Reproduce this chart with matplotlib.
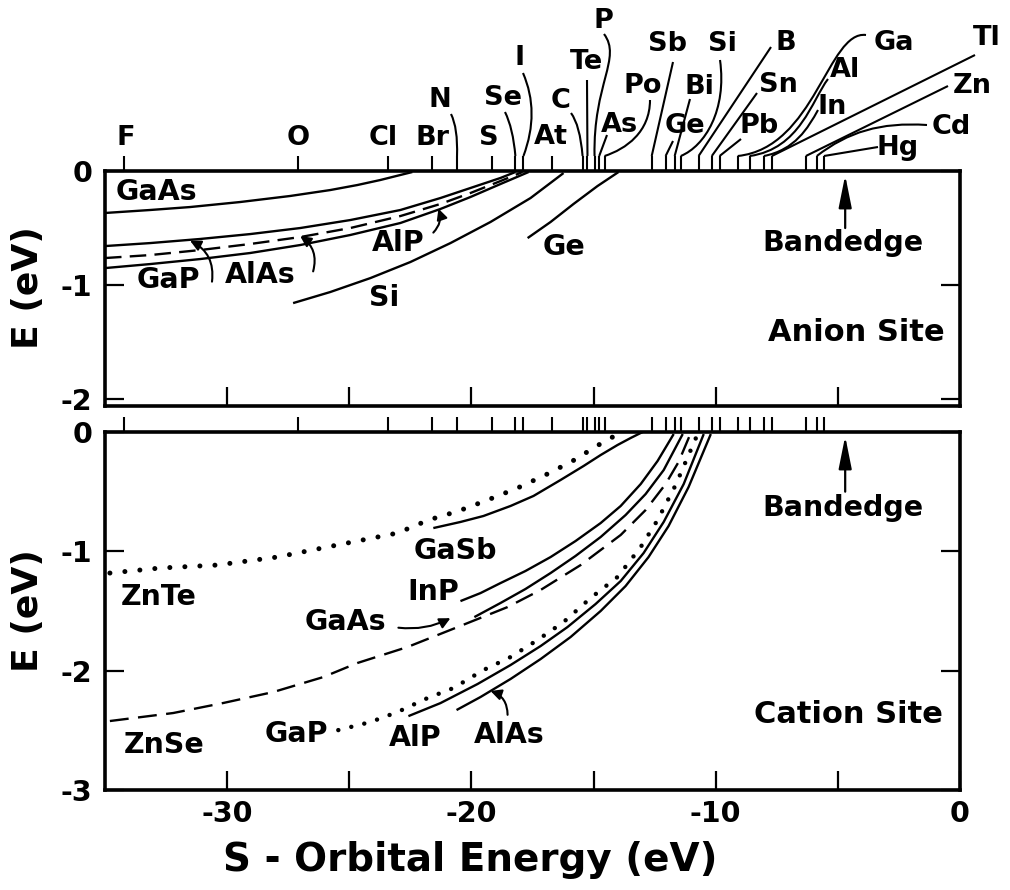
import matplotlib
matplotlib.use("Agg")
import matplotlib.pyplot as plt
import matplotlib.transforms as mtransforms
from matplotlib.path import Path
from matplotlib.patches import PathPatch

plt.rcParams["font.family"] = ["DejaVu Sans"]
plt.rcParams["font.weight"] = "bold"
plt.rcParams["axes.unicode_minus"] = False

# ── Impurity s-orbital energies (eV), marked along the top of both panels ──
ELEMENTS = ["F", "O", "Cl", "Br", "N", "S", "Se", "I", "At", "C", "Te", "P",
            "As", "Po", "Sb", "Ge", "Bi", "Si", "B", "Sn", "Pb", "Ga", "Al",
            "In", "Tl", "Zn", "Cd", "Hg"]
S_ENERGY = [-34.22, -27.09, -23.40, -21.62, -20.59, -19.14, -18.20, -17.87,
            -16.71, -15.45, -15.25, -14.96, -14.77, -14.55, -12.62, -12.05,
            -11.68, -11.43, -10.70, -10.16, -9.84, -9.10, -8.61, -8.03,
            -7.70, -6.31, -5.86, -5.57]
BANDEDGE = -4.7

# ── Anion site: deep level E (eV) vs impurity s-orbital energy ──
an_gaas_x = [-35.0, -33.16, -31.52, -29.47, -27.42, -25.78, -24.67, -23.73, -22.91, -22.42]
an_gaas_e = [-0.368, -0.342, -0.316, -0.272, -0.219, -0.167, -0.123, -0.079, -0.035, -0.009]
an_gap_x = [-35.0, -33.16, -31.11, -29.06, -27.01, -24.96, -22.91, -21.27, -20.04, -18.81, -18.20]
an_gap_e = [-0.658, -0.632, -0.596, -0.553, -0.500, -0.430, -0.342, -0.237, -0.149, -0.061, -0.009]
an_alas_x = [-35.0, -33.16, -31.11, -29.06, -27.01, -24.96, -22.91, -21.27, -20.04, -18.81, -17.91]
an_alas_e = [-0.763, -0.737, -0.693, -0.640, -0.579, -0.500, -0.395, -0.289, -0.193, -0.088, -0.009]
an_alp_x = [-35.0, -33.16, -31.11, -29.06, -27.01, -24.96, -22.91, -21.27, -20.04, -18.81, -17.66]
an_alp_e = [-0.851, -0.816, -0.772, -0.719, -0.649, -0.561, -0.456, -0.333, -0.228, -0.114, -0.009]
an_si_x = [-27.30, -25.78, -24.14, -22.50, -20.86, -19.22, -17.58, -16.23]
an_si_e = [-1.158, -1.061, -0.939, -0.798, -0.632, -0.447, -0.237, -0.018]
an_ge_x = [-17.70, -16.76, -15.82, -14.84, -13.98]
an_ge_e = [-0.588, -0.447, -0.289, -0.132, -0.009]

# ── Cation site ──
ca_znte_x = [-34.80, -32.75, -30.41, -27.95, -25.49, -23.03, -21.76, -20.53, -19.34,
             -18.11, -16.97, -15.86, -14.80, -14.22]
ca_znte_e = [-1.182, -1.140, -1.115, -1.048, -0.947, -0.847, -0.738, -0.662, -0.570,
             -0.469, -0.360, -0.243, -0.109, -0.042]
ca_gasb_x = [-21.56, -20.45, -19.51, -18.40, -17.46, -16.35, -15.41, -14.71, -14.02, -13.48, -12.99]
ca_gasb_e = [-0.805, -0.754, -0.704, -0.620, -0.536, -0.402, -0.285, -0.193, -0.109, -0.050, 0.0]
ca_inp_x = [-20.45, -19.63, -18.81, -17.79, -16.76, -15.74, -14.71, -13.89, -13.07, -12.38, -11.72]
ca_inp_e = [-1.417, -1.350, -1.266, -1.165, -1.048, -0.914, -0.763, -0.620, -0.436, -0.243, -0.017]
ca_gaas_x = [-19.88, -18.81, -17.79, -16.76, -15.74, -14.71, -13.69, -12.87, -12.13, -11.35]
ca_gaas_e = [-1.551, -1.433, -1.316, -1.182, -1.039, -0.880, -0.696, -0.520, -0.319, -0.017]
ca_znse_x = [-34.80, -32.21, -30.16, -28.11, -26.07, -24.67, -22.62, -20.57, -18.52, -17.17,
             -15.53, -13.89, -12.87, -12.05, -11.52, -11.02]
ca_znse_e = [-2.422, -2.355, -2.271, -2.179, -2.054, -1.936, -1.802, -1.635, -1.467, -1.324,
             -1.115, -0.863, -0.654, -0.436, -0.251, -0.008]
ca_gap_x = [-25.45, -24.14, -23.03, -21.80, -20.74, -19.51, -18.40, -17.30, -16.23, -15.12,
            -14.02, -13.07, -12.38, -11.64, -10.74]
ca_gap_e = [-2.498, -2.431, -2.347, -2.230, -2.146, -1.995, -1.886, -1.744, -1.593, -1.391,
            -1.215, -0.964, -0.738, -0.444, -0.017]
ca_alp_x = [-22.58, -21.27, -19.75, -18.40, -17.17, -16.07, -14.92, -13.89, -12.95, -12.13, -11.31, -10.49]
ca_alp_e = [-2.381, -2.272, -2.112, -1.953, -1.794, -1.635, -1.442, -1.249, -1.014, -0.754, -0.436, -0.017]
ca_alas_x = [-20.61, -19.63, -18.40, -17.17, -15.94, -14.71, -13.69, -12.75, -11.93, -11.11, -10.20]
ca_alas_e = [-2.330, -2.221, -2.070, -1.903, -1.718, -1.500, -1.291, -1.048, -0.788, -0.461, -0.017]

# ── Layout (reference-pixel coordinates of a 1010 x 890 canvas) ──
W, H = 1010, 890
fig = plt.figure(figsize=(W / 100, H / 100), dpi=100)
ref = mtransforms.Affine2D().scale(1 / W, -1 / H).translate(0, 1) + fig.transFigure


def box(l, t, r, b):
    return [l / W, 1 - b / H, (r - l) / W, (b - t) / H]


ax1 = fig.add_axes(box(105, 171, 960, 406))
ax2 = fig.add_axes(box(105, 432, 960, 790))
ax1.set_xlim(-35, 0)
ax1.set_ylim(-2.06, 0)
ax2.set_xlim(-35, 0)
ax2.set_ylim(-3, 0)

LW = 1.7
FS = 20.5

for ax in (ax1, ax2):
    for sp in ax.spines.values():
        sp.set_linewidth(2.6)
    ax.tick_params(axis="both", which="both", direction="in", length=14, width=1.6,
                   right=True, top=False, labelsize=FS, pad=9)

ax1.set_xticks([-30, -25, -20, -15, -10, -5])
ax1.tick_params(axis="x", labelbottom=False)
ax1.set_yticks([0, -1, -2])
ax1.set_yticklabels(["0", "-1", "-2"])

ax2.set_xticks([-30, -20, -10, 0])
ax2.set_xticklabels(["-30", "-20", "-10", "0"])
ax2.set_xticks([-25, -15, -5], minor=True)
ax2.set_yticks([0, -1, -2, -3])
ax2.set_yticklabels(["0", "-1", "-2", "-3"])
ax2.tick_params(axis="x", pad=7)

# element ticks above the top spine of each panel
for ax, hpx in ((ax1, 235), (ax2, 358)):
    ax.vlines(S_ENERGY, 1, 1 + 15 / hpx, transform=ax.get_xaxis_transform(),
              clip_on=False, color="k", lw=1.5)

# ── Curves ──
solid = dict(color="k", lw=LW, solid_capstyle="butt")
ax1.plot(an_gaas_x, an_gaas_e, **solid)
ax1.plot(an_gap_x, an_gap_e, **solid)
ax1.plot(an_alas_x, an_alas_e, color="k", lw=LW, ls=(0, (7, 3.5)))
ax1.plot(an_alp_x, an_alp_e, **solid)
ax1.plot(an_si_x, an_si_e, **solid)
ax1.plot(an_ge_x, an_ge_e, **solid)

ax2.plot(ca_znte_x, ca_znte_e, color="k", lw=3.6, ls=(0, (0.01, 3.0)), dash_capstyle="round")
ax2.plot(ca_gasb_x, ca_gasb_e, **solid)
ax2.plot(ca_inp_x, ca_inp_e, **solid)
ax2.plot(ca_gaas_x, ca_gaas_e, **solid)
ax2.plot(ca_znse_x, ca_znse_e, color="k", lw=LW, ls=(0, (8, 4)))
ax2.plot(ca_gap_x, ca_gap_e, color="k", lw=3.2, ls=(0, (0.01, 3.0)), dash_capstyle="round")
ax2.plot(ca_alp_x, ca_alp_e, **solid)
ax2.plot(ca_alas_x, ca_alas_e, **solid)

# ── Host labels and pointer arrows ──
def label(ax, x, y, s, size=FS):
    ax.text(x, y, s, ha="center", va="center", fontsize=size, fontweight="bold")


def pointer(ax, tail, head, rad):
    ax.annotate("", xy=head, xytext=tail,
                arrowprops=dict(arrowstyle="-|>", color="k", lw=1.5, mutation_scale=16,
                                shrinkA=0, shrinkB=0,
                                connectionstyle=f"arc3,rad={rad}"))


label(ax1, -32.89, -0.18, "GaAs")
label(ax1, -32.40, -0.956, "GaP")
label(ax1, -28.63, -0.912, "AlAs")
label(ax1, -23.01, -0.627, "AlP")
label(ax1, -23.57, -1.114, "Si")
label(ax1, -16.21, -0.662, "Ge")
label(ax1, -4.79, -0.627, "Bandedge")
label(ax1, -4.26, -1.42, "Anion Site", 22)
pointer(ax1, (-30.62, -0.97), (-31.52, -0.61), 0.35)
pointer(ax1, (-26.48, -0.88), (-27.01, -0.57), 0.35)
pointer(ax1, (-21.56, -0.54), (-21.35, -0.33), 0.3)

label(ax2, -20.66, -1.0, "GaSb")
label(ax2, -21.58, -1.341, "InP")
label(ax2, -25.16, -1.593, "GaAs")
label(ax2, -32.81, -1.383, "ZnTe")
label(ax2, -32.58, -2.624, "ZnSe")
label(ax2, -27.15, -2.532, "GaP")
label(ax2, -22.31, -2.565, "AlP")
label(ax2, -18.44, -2.540, "AlAs")
label(ax2, -4.79, -0.637, "Bandedge")
label(ax2, -4.55, -2.37, "Cation Site", 22)
pointer(ax2, (-22.99, -1.64), (-20.86, -1.56), 0.15)
pointer(ax2, (-18.52, -2.37), (-19.22, -2.17), 0.35)

for ax in (ax1, ax2):
    ax.annotate("", xy=(BANDEDGE, 0), xytext=(BANDEDGE, -0.5),
                arrowprops=dict(arrowstyle="-|>,head_length=1.1,head_width=0.22",
                                color="k", lw=1.6, mutation_scale=18,
                                shrinkA=0, shrinkB=3))

# ── Element labels with leader lines (ref pixels) ──
EL_POS = {
    "F": (126, 138), "O": (298, 138), "Cl": (383, 138), "Br": (433, 138),
    "N": (440, 100), "S": (489, 138), "Se": (503, 98), "I": (520, 58),
    "At": (551, 137), "C": (561, 101), "Te": (586, 62), "P": (603, 21),
    "As": (619, 125), "Po": (643, 86), "Sb": (667, 44), "Ge": (685, 126),
    "Bi": (699, 87), "Si": (722, 44), "B": (786, 43), "Sn": (778, 85),
    "Pb": (759, 126), "Ga": (894, 43), "Al": (845, 70), "In": (832, 107),
    "Tl": (987, 38), "Zn": (972, 86), "Cd": (951, 127), "Hg": (898, 148),
}
LEADERS = {
    "N": [(451, 114), (458, 128)],
    "Se": [(505, 112), (513, 128)],
    "I": [(523, 73), (540, 112)],
    "C": [(571, 113), (580, 125)],
    "Te": [(587, 80)],
    "P": [(604, 34), (622, 58), (593, 84)],
    "As": [(607, 135)],
    "Po": [(650, 100), (650, 132), (626, 149)],
    "Sb": [(673, 62)],
    "Ge": [(673, 141)],
    "Bi": [(690, 99)],
    "Si": [(720, 60), (727, 110), (705, 146)],
    "B": [(771, 47)],
    "Sn": [(757, 93)],
    "Pb": [(741, 139)],
    "Ga": [(866, 35), (828, 30), (815, 148)],
    "Al": [(828, 79), (812, 100), (800, 149)],
    "In": [(818, 110), (808, 128), (795, 150)],
    "Tl": [(975, 55)],
    "Zn": [(948, 86)],
    "Cd": [(927, 125), (880, 122), (848, 132)],
    "Hg": [(878, 147)],
}

inv = ref.inverted()
for name, e in zip(ELEMENTS, S_ENERGY):
    px, py = EL_POS[name]
    fig.text(px, py, name, transform=ref, ha="center", va="center",
             fontsize=19.5, fontweight="bold")
    if name not in LEADERS:
        continue
    tx, ty = inv.transform(ax1.transData.transform((e, 0)))
    end = (tx, ty - 15)
    pts = LEADERS[name] + [end]
    codes = {2: [Path.MOVETO, Path.LINETO],
             3: [Path.MOVETO, Path.CURVE3, Path.CURVE3],
             4: [Path.MOVETO, Path.CURVE4, Path.CURVE4, Path.CURVE4]}[len(pts)]
    fig.add_artist(PathPatch(Path(pts, codes), transform=ref, fill=False,
                             lw=1.5, edgecolor="k"))

# ── Axis titles ──
fig.text(28, 288, "E (eV)", transform=ref, rotation=90, ha="center", va="center",
         fontsize=26, fontweight="bold")
fig.text(28, 611, "E (eV)", transform=ref, rotation=90, ha="center", va="center",
         fontsize=26, fontweight="bold")
fig.text(470, 860, "S - Orbital Energy (eV)", transform=ref, ha="center", va="center",
         fontsize=28, fontweight="bold")

fig.savefig("out.png", dpi=100)
